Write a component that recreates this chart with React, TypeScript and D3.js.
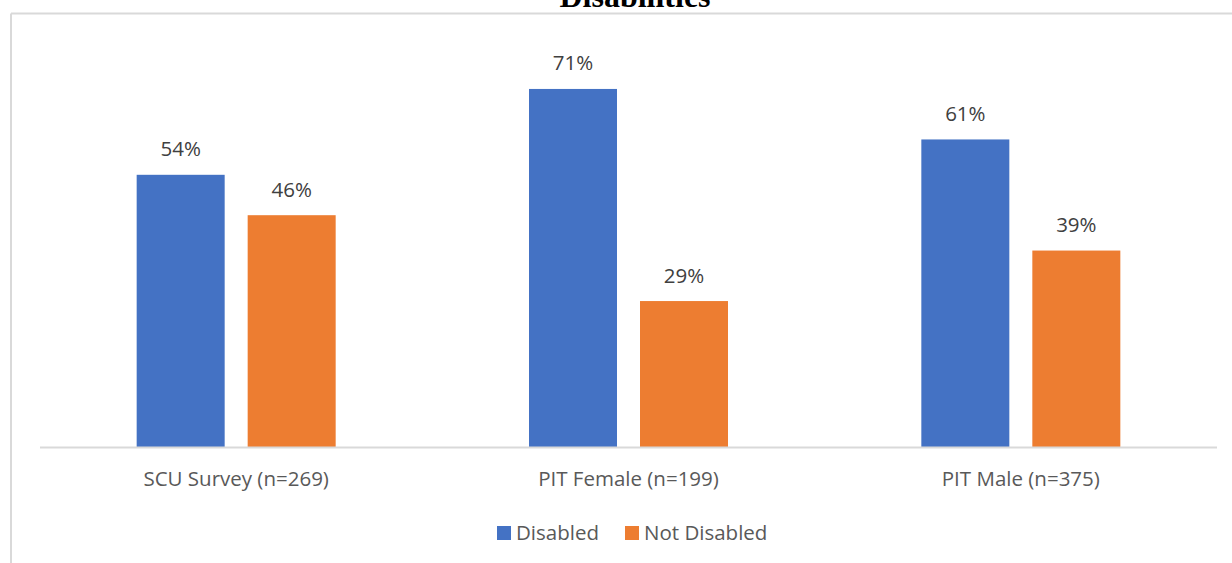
import React from "react";
import * as d3 from "d3";

const categories = ["SCU Survey (n=269)", "PIT Female (n=199)", "PIT Male (n=375)"];
const seriesNames = ["Disabled", "Not Disabled"];
const disabled = [54, 71, 61];
const notDisabled = [46, 29, 39];
const seriesColors = ["#4472c4", "#ed7d31"];

const W = 1232;
const H = 563;
const axisLeft = 40;
const axisRight = 1217;
const baseline = 447.5;
const plotTop = 43.5;
const groupWidth = 199;

export default function App() {
  const x = d3.scaleBand<string>().domain(categories).range([axisLeft, axisRight]).paddingInner(0).paddingOuter(0);
  const y = d3.scaleLinear().domain([0, 80]).range([baseline, plotTop]);
  const inner = d3.scaleBand<string>().domain(seriesNames).range([0, groupWidth]).paddingInner(23 / 111).paddingOuter(0);
  const barW = inner.bandwidth();
  const values = [disabled, notDisabled];

  const font = "'Open Sans', 'Noto Sans', sans-serif";
  const fs = 20.5;

  return (
    <svg width={W} height={H} style={{ position: "absolute", left: 0, top: 0, background: "#fff" }}>
      {/* chart frame */}
      <line x1={11} y1={13.5} x2={W} y2={13.5} stroke="#d9d9d9" strokeWidth={2} />
      <line x1={11} y1={13.5} x2={11} y2={H} stroke="#d9d9d9" strokeWidth={2} />
      {/* title */}
      <text x={635} y={7} textAnchor="middle" fontFamily="'Liberation Serif', 'Times New Roman', serif" fontWeight="bold" fontSize={32} fill="#000">
        Disabilities
      </text>
      {/* bars and labels */}
      {categories.map((c, ci) => {
        const cx = (x(c) as number) + x.bandwidth() / 2;
        const start = cx - groupWidth / 2;
        return (
          <g key={c}>
            {seriesNames.map((s, si) => {
              const v = values[si][ci];
              const bx = start + (inner(s) as number);
              return (
                <g key={s}>
                  <rect x={bx} y={y(v)} width={barW} height={baseline - y(v)} fill={seriesColors[si]} />
                  <text x={bx + barW / 2} y={y(v) - 18.5} textAnchor="middle" fontFamily={font} fontSize={fs} fill="#404040">
                    {v}%
                  </text>
                </g>
              );
            })}
            <text x={cx} y={486} textAnchor="middle" fontFamily={font} fontSize={fs} fill="#595959">
              {c}
            </text>
          </g>
        );
      })}
      {/* category axis */}
      <line x1={axisLeft} y1={baseline} x2={axisRight} y2={baseline} stroke="#d9d9d9" strokeWidth={2} />
      {/* legend */}
      {seriesNames.map((s, si) => {
        const lx = [497, 625][si];
        return (
          <g key={s}>
            <rect x={lx} y={526} width={14} height={14} fill={seriesColors[si]} />
            <text x={lx + 19} y={540} fontFamily={font} fontSize={fs} fill="#595959">
              {s}
            </text>
          </g>
        );
      })}
    </svg>
  );
}
